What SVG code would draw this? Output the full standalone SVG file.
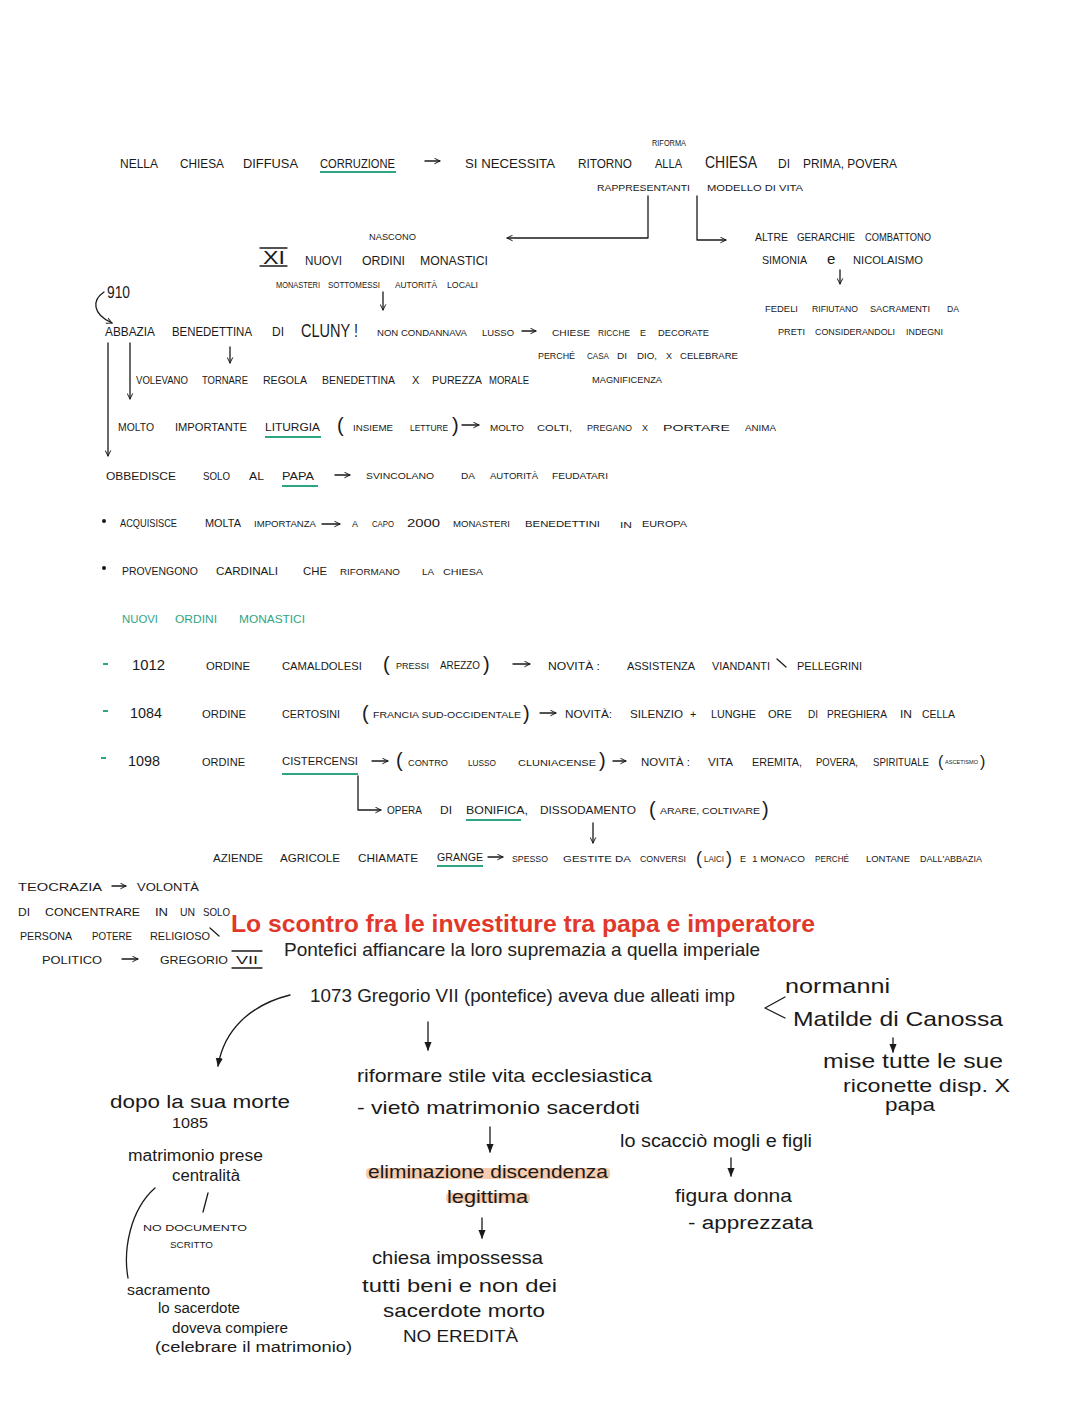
<svg xmlns="http://www.w3.org/2000/svg" width="1080" height="1413" viewBox="0 0 1080 1413">
<style>
text{font-family:"Liberation Sans",Arial,sans-serif;fill:#1a1a1a}
.h{font-size:13px}
.m{font-size:11px}
.s{font-size:9px}
.g{fill:#2fa583}
.hw{font-size:19px}
.red{font-size:24px;font-weight:bold;fill:#e0392b}
.ty{font-size:18.5px;fill:#222}
.ln{fill:none;stroke:#1a1a1a;stroke-width:1.3;stroke-linecap:round;stroke-linejoin:round}
.ul{stroke:#2fa583;stroke-width:2;fill:none}
</style>
<defs>
<marker id="ah" viewBox="0 0 10 10" refX="9" refY="5" markerWidth="7" markerHeight="7" orient="auto-start-reverse" markerUnits="userSpaceOnUse"><path d="M1 1 L9 5 L1 9" fill="none" stroke="#1a1a1a" stroke-width="1.4"/></marker>
<marker id="af" viewBox="0 0 10 10" refX="9" refY="5" markerWidth="9" markerHeight="9" orient="auto" markerUnits="userSpaceOnUse"><path d="M0 1 L10 5 L0 9 Z" fill="#1a1a1a"/></marker>
</defs>
<rect width="1080" height="1413" fill="#fff"/>

<g id="connectors">
<path class="ln" d="M425 161 H440" marker-end="url(#ah)"/>
<path class="ln" d="M648 196 V238 H507" marker-end="url(#ah)"/>
<path class="ln" d="M697 196 V240 H726" marker-end="url(#ah)"/>
<path class="ln" d="M383 292 V310" marker-end="url(#ah)"/>
<path class="ln" d="M840 270 V284" marker-end="url(#ah)"/>
<path class="ln" d="M104 292 C92 300 92 314 112 323" marker-end="url(#ah)"/>
<path class="ln" d="M522 331 H536" marker-end="url(#ah)"/>
<path class="ln" d="M230 347 V363" marker-end="url(#ah)"/>
<path class="ln" d="M108 343 V456" marker-end="url(#ah)"/>
<path class="ln" d="M130 343 V399" marker-end="url(#ah)"/>
<path class="ln" d="M462 425 H479" marker-end="url(#ah)"/>
<path class="ln" d="M335 475 H350" marker-end="url(#ah)"/>
<path class="ln" d="M322 524 H340" marker-end="url(#ah)"/>
<path class="ln" d="M513 664 H530" marker-end="url(#ah)"/>
<path class="ln" d="M540 713 H556" marker-end="url(#ah)"/>
<path class="ln" d="M372 761 H388" marker-end="url(#ah)"/>
<path class="ln" d="M613 761 H626" marker-end="url(#ah)"/>
<path class="ln" d="M358 776 V810 H381" marker-end="url(#ah)"/>
<path class="ln" d="M593 823 V843" marker-end="url(#ah)"/>
<path class="ln" d="M488 857 H503" marker-end="url(#ah)"/>
<path class="ln" d="M112 886 H126" marker-end="url(#ah)"/>
<path class="ln" d="M122 959 H138" marker-end="url(#ah)"/>
<path class="ln" d="M290 995 C250 1005 224 1030 218 1066" marker-end="url(#af)"/>
<path class="ln" d="M428 1022 V1050" marker-end="url(#af)"/>
<path class="ln" d="M490 1127 V1152" marker-end="url(#af)"/>
<path class="ln" d="M482 1218 V1238" marker-end="url(#af)"/>
<path class="ln" d="M893 1038 V1052" marker-end="url(#af)"/>
<path class="ln" d="M731 1158 V1176" marker-end="url(#af)"/>
<path class="ln" d="M785 997 L765 1008 L785 1018"/>
<path class="ln" d="M208 1193 L203 1212"/>
<path class="ln" d="M155 1188 C130 1210 123 1250 128 1278"/>
</g>

<g id="n-corruzione">
<text class="h" x="120" y="168" textLength="38" lengthAdjust="spacingAndGlyphs">NELLA</text>
<text class="h" x="180" y="168" textLength="44" lengthAdjust="spacingAndGlyphs">CHIESA</text>
<text class="h" x="243" y="168" textLength="55" lengthAdjust="spacingAndGlyphs">DIFFUSA</text>
<text class="h" x="320" y="168" textLength="75" lengthAdjust="spacingAndGlyphs">CORRUZIONE</text>
<path class="ul" d="M320 172 H396"/>
</g>
<g id="n-ritorno">
<text class="s" x="652" y="146" textLength="34" lengthAdjust="spacingAndGlyphs">RIFORMA</text>
<text class="h" x="465" y="168" textLength="90" lengthAdjust="spacingAndGlyphs">SI NECESSITA</text>
<text class="h" x="578" y="168" textLength="54" lengthAdjust="spacingAndGlyphs">RITORNO</text>
<text class="h" x="655" y="168" textLength="27" lengthAdjust="spacingAndGlyphs">ALLA</text>
<text class="h" x="705" y="168" textLength="52" lengthAdjust="spacingAndGlyphs" style="font-size:16px">CHIESA</text>
<text class="h" x="778" y="168" textLength="12" lengthAdjust="spacingAndGlyphs">DI</text>
<text class="h" x="803" y="168" textLength="94" lengthAdjust="spacingAndGlyphs">PRIMA, POVERA</text>
<text class="s" x="597" y="191" textLength="93" lengthAdjust="spacingAndGlyphs">RAPPRESENTANTI</text>
<text class="s" x="707" y="191" textLength="96" lengthAdjust="spacingAndGlyphs">MODELLO DI VITA</text>
</g>

<g id="n-nuovi-ordini">
<text class="s" x="369" y="240" textLength="47" lengthAdjust="spacingAndGlyphs">NASCONO</text>
<text x="263" y="264" style="font-size:19px" textLength="22" lengthAdjust="spacingAndGlyphs">XI</text>
<path class="ln" d="M260 248 H287 M260 266 H287"/>
<text class="h" x="305" y="265" textLength="37" lengthAdjust="spacingAndGlyphs">NUOVI</text>
<text class="h" x="362" y="265" textLength="43" lengthAdjust="spacingAndGlyphs">ORDINI</text>
<text class="h" x="420" y="265" textLength="68" lengthAdjust="spacingAndGlyphs">MONASTICI</text>
<text class="s" x="276" y="288" textLength="44" lengthAdjust="spacingAndGlyphs">MONASTERI</text>
<text class="s" x="328" y="288" textLength="52" lengthAdjust="spacingAndGlyphs">SOTTOMESSI</text>
<text class="s" x="395" y="288" textLength="42" lengthAdjust="spacingAndGlyphs">AUTORITÀ</text>
<text class="s" x="447" y="288" textLength="31" lengthAdjust="spacingAndGlyphs">LOCALI</text>
</g>

<g id="n-altre-gerarchie">
<text class="m" x="755" y="241" textLength="33" lengthAdjust="spacingAndGlyphs">ALTRE</text>
<text class="m" x="797" y="241" textLength="58" lengthAdjust="spacingAndGlyphs">GERARCHIE</text>
<text class="m" x="865" y="241" textLength="66" lengthAdjust="spacingAndGlyphs">COMBATTONO</text>
<text class="m" x="762" y="264" textLength="45" lengthAdjust="spacingAndGlyphs">SIMONIA</text>
<text x="827" y="264" style="font-size:15px">e</text>
<text class="m" x="853" y="264" textLength="70" lengthAdjust="spacingAndGlyphs">NICOLAISMO</text>
<text class="s" x="765" y="312" textLength="33" lengthAdjust="spacingAndGlyphs">FEDELI</text>
<text class="s" x="812" y="312" textLength="46" lengthAdjust="spacingAndGlyphs">RIFIUTANO</text>
<text class="s" x="870" y="312" textLength="60" lengthAdjust="spacingAndGlyphs">SACRAMENTI</text>
<text class="s" x="947" y="312" textLength="12" lengthAdjust="spacingAndGlyphs">DA</text>
<text class="s" x="778" y="335" textLength="27" lengthAdjust="spacingAndGlyphs">PRETI</text>
<text class="s" x="815" y="335" textLength="80" lengthAdjust="spacingAndGlyphs">CONSIDERANDOLI</text>
<text class="s" x="906" y="335" textLength="37" lengthAdjust="spacingAndGlyphs">INDEGNI</text>
</g>

<g id="n-cluny">
<text x="107" y="298" style="font-size:16px" textLength="23" lengthAdjust="spacingAndGlyphs">910</text>
<text class="h" x="105" y="336" textLength="50" lengthAdjust="spacingAndGlyphs">ABBAZIA</text>
<text class="h" x="172" y="336" textLength="80" lengthAdjust="spacingAndGlyphs">BENEDETTINA</text>
<text class="h" x="272" y="336" textLength="12" lengthAdjust="spacingAndGlyphs">DI</text>
<text x="301" y="337" style="font-size:19px" textLength="57" lengthAdjust="spacingAndGlyphs">CLUNY !</text>
<text class="s" x="377" y="336" textLength="90" lengthAdjust="spacingAndGlyphs">NON CONDANNAVA</text>
<text class="s" x="482" y="336" textLength="32" lengthAdjust="spacingAndGlyphs">LUSSO</text>
<text class="s" x="552" y="336" textLength="38" lengthAdjust="spacingAndGlyphs">CHIESE</text>
<text class="s" x="598" y="336" textLength="32" lengthAdjust="spacingAndGlyphs">RICCHE</text>
<text class="s" x="640" y="336">E</text>
<text class="s" x="658" y="336" textLength="51" lengthAdjust="spacingAndGlyphs">DECORATE</text>
<text class="s" x="538" y="359" textLength="37" lengthAdjust="spacingAndGlyphs">PERCHÉ</text>
<text class="s" x="587" y="359" textLength="22" lengthAdjust="spacingAndGlyphs">CASA</text>
<text class="s" x="617" y="359" textLength="10" lengthAdjust="spacingAndGlyphs">DI</text>
<text class="s" x="637" y="359" textLength="20" lengthAdjust="spacingAndGlyphs">DIO,</text>
<text class="s" x="666" y="359">X</text>
<text class="s" x="680" y="359" textLength="58" lengthAdjust="spacingAndGlyphs">CELEBRARE</text>
<text class="s" x="592" y="383" textLength="70" lengthAdjust="spacingAndGlyphs">MAGNIFICENZA</text>
<text class="m" x="136" y="384" textLength="52" lengthAdjust="spacingAndGlyphs">VOLEVANO</text>
<text class="m" x="202" y="384" textLength="46" lengthAdjust="spacingAndGlyphs">TORNARE</text>
<text class="m" x="263" y="384" textLength="44" lengthAdjust="spacingAndGlyphs">REGOLA</text>
<text class="m" x="322" y="384" textLength="73" lengthAdjust="spacingAndGlyphs">BENEDETTINA</text>
<text class="m" x="412" y="384">X</text>
<text class="m" x="432" y="384" textLength="50" lengthAdjust="spacingAndGlyphs">PUREZZA</text>
<text class="m" x="489" y="384" textLength="40" lengthAdjust="spacingAndGlyphs">MORALE</text>
</g>

<g id="n-liturgia">
<text class="m" x="118" y="431" textLength="36" lengthAdjust="spacingAndGlyphs">MOLTO</text>
<text class="m" x="175" y="431" textLength="72" lengthAdjust="spacingAndGlyphs">IMPORTANTE</text>
<text class="m" x="265" y="431" textLength="55" lengthAdjust="spacingAndGlyphs">LITURGIA</text>
<path class="ul" d="M265 437 H321"/>
<text x="337" y="432" style="font-size:20px;font-weight:300">(</text>
<text class="s" x="353" y="431" textLength="40" lengthAdjust="spacingAndGlyphs">INSIEME</text>
<text class="s" x="410" y="431" textLength="38" lengthAdjust="spacingAndGlyphs">LETTURE</text>
<text x="452" y="432" style="font-size:20px;font-weight:300">)</text>
<text class="s" x="490" y="431" textLength="34" lengthAdjust="spacingAndGlyphs">MOLTO</text>
<text class="s" x="537" y="431" textLength="35" lengthAdjust="spacingAndGlyphs">COLTI,</text>
<text class="s" x="587" y="431" textLength="45" lengthAdjust="spacingAndGlyphs">PREGANO</text>
<text class="s" x="642" y="431">X</text>
<text class="s" x="663" y="431" textLength="67" lengthAdjust="spacingAndGlyphs">PORTARE</text>
<text class="s" x="745" y="431" textLength="31" lengthAdjust="spacingAndGlyphs">ANIMA</text>
</g>

<g id="n-obbedisce">
<text class="m" x="106" y="480" textLength="70" lengthAdjust="spacingAndGlyphs">OBBEDISCE</text>
<text class="m" x="203" y="480" textLength="27" lengthAdjust="spacingAndGlyphs">SOLO</text>
<text class="m" x="249" y="480" textLength="15" lengthAdjust="spacingAndGlyphs">AL</text>
<text class="m" x="282" y="480" textLength="32" lengthAdjust="spacingAndGlyphs">PAPA</text>
<path class="ul" d="M282 486 H318"/>
<text class="s" x="366" y="479" textLength="68" lengthAdjust="spacingAndGlyphs">SVINCOLANO</text>
<text class="s" x="461" y="479" textLength="14" lengthAdjust="spacingAndGlyphs">DA</text>
<text class="s" x="490" y="479" textLength="48" lengthAdjust="spacingAndGlyphs">AUTORITÀ</text>
<text class="s" x="552" y="479" textLength="56" lengthAdjust="spacingAndGlyphs">FEUDATARI</text>
</g>

<g id="n-acquisisce">
<circle cx="104" cy="521" r="2" fill="#1a1a1a"/>
<text class="m" x="120" y="527" textLength="57" lengthAdjust="spacingAndGlyphs">ACQUISISCE</text>
<text class="m" x="205" y="527" textLength="36" lengthAdjust="spacingAndGlyphs">MOLTA</text>
<text class="s" x="254" y="527" textLength="62" lengthAdjust="spacingAndGlyphs">IMPORTANZA</text>
<text class="s" x="352" y="527">A</text>
<text class="s" x="372" y="527" textLength="22" lengthAdjust="spacingAndGlyphs">CAPO</text>
<text class="m" x="407" y="527" textLength="33" lengthAdjust="spacingAndGlyphs">2000</text>
<text class="s" x="453" y="527" textLength="57" lengthAdjust="spacingAndGlyphs">MONASTERI</text>
<text class="s" x="525" y="527" textLength="75" lengthAdjust="spacingAndGlyphs">BENEDETTINI</text>
<text class="s" x="620" y="528" textLength="12" lengthAdjust="spacingAndGlyphs">IN</text>
<text class="s" x="642" y="527" textLength="45" lengthAdjust="spacingAndGlyphs">EUROPA</text>
</g>

<g id="n-provengono">
<circle cx="104" cy="568" r="2" fill="#1a1a1a"/>
<text class="m" x="122" y="575" textLength="76" lengthAdjust="spacingAndGlyphs">PROVENGONO</text>
<text class="m" x="216" y="575" textLength="62" lengthAdjust="spacingAndGlyphs">CARDINALI</text>
<text class="m" x="303" y="575" textLength="24" lengthAdjust="spacingAndGlyphs">CHE</text>
<text class="s" x="340" y="575" textLength="60" lengthAdjust="spacingAndGlyphs">RIFORMANO</text>
<text class="s" x="422" y="575" textLength="12" lengthAdjust="spacingAndGlyphs">LA</text>
<text class="s" x="443" y="575" textLength="40" lengthAdjust="spacingAndGlyphs">CHIESA</text>
</g>

<g id="n-nuovi-ordini-titolo">
<text class="m g" x="122" y="623" textLength="36" lengthAdjust="spacingAndGlyphs">NUOVI</text>
<text class="m g" x="175" y="623" textLength="42" lengthAdjust="spacingAndGlyphs">ORDINI</text>
<text class="m g" x="239" y="623" textLength="66" lengthAdjust="spacingAndGlyphs">MONASTICI</text>
</g>

<g id="n-1012">
<path class="ul" d="M103 664 H108"/>
<text x="132" y="670" style="font-size:14px" textLength="33" lengthAdjust="spacingAndGlyphs">1012</text>
<text class="m" x="206" y="670" textLength="44" lengthAdjust="spacingAndGlyphs">ORDINE</text>
<text class="m" x="282" y="670" textLength="80" lengthAdjust="spacingAndGlyphs">CAMALDOLESI</text>
<text x="383" y="671" style="font-size:20px;font-weight:300">(</text>
<text class="s" x="396" y="669" textLength="33" lengthAdjust="spacingAndGlyphs">PRESSI</text>
<text class="m" x="440" y="669" textLength="40" lengthAdjust="spacingAndGlyphs">AREZZO</text>
<text x="483" y="671" style="font-size:20px;font-weight:300">)</text>
<text class="m" x="548" y="670" textLength="52" lengthAdjust="spacingAndGlyphs">NOVITÀ :</text>
<text class="m" x="627" y="670" textLength="68" lengthAdjust="spacingAndGlyphs">ASSISTENZA</text>
<text class="m" x="712" y="670" textLength="58" lengthAdjust="spacingAndGlyphs">VIANDANTI</text>
<path class="ln" d="M777 659 L786 667"/>
<text class="m" x="797" y="670" textLength="65" lengthAdjust="spacingAndGlyphs">PELLEGRINI</text>
</g>

<g id="n-1084">
<path class="ul" d="M103 711 H108"/>
<text x="130" y="718" style="font-size:14px" textLength="32" lengthAdjust="spacingAndGlyphs">1084</text>
<text class="m" x="202" y="718" textLength="44" lengthAdjust="spacingAndGlyphs">ORDINE</text>
<text class="m" x="282" y="718" textLength="58" lengthAdjust="spacingAndGlyphs">CERTOSINI</text>
<text x="362" y="720" style="font-size:20px;font-weight:300">(</text>
<text class="s" x="373" y="718" textLength="148" lengthAdjust="spacingAndGlyphs">FRANCIA SUD-OCCIDENTALE</text>
<text x="523" y="720" style="font-size:20px;font-weight:300">)</text>
<text class="m" x="565" y="718" textLength="47" lengthAdjust="spacingAndGlyphs">NOVITÀ:</text>
<text class="m" x="630" y="718" textLength="53" lengthAdjust="spacingAndGlyphs">SILENZIO</text>
<text class="m" x="690" y="718">+</text>
<text class="m" x="711" y="718" textLength="45" lengthAdjust="spacingAndGlyphs">LUNGHE</text>
<text class="m" x="768" y="718" textLength="24" lengthAdjust="spacingAndGlyphs">ORE</text>
<text class="m" x="808" y="718" textLength="10" lengthAdjust="spacingAndGlyphs">DI</text>
<text class="m" x="827" y="718" textLength="60" lengthAdjust="spacingAndGlyphs">PREGHIERA</text>
<text class="m" x="900" y="718" textLength="12" lengthAdjust="spacingAndGlyphs">IN</text>
<text class="m" x="922" y="718" textLength="33" lengthAdjust="spacingAndGlyphs">CELLA</text>
</g>

<g id="n-1098">
<path class="ul" d="M101 758 H106"/>
<text x="128" y="766" style="font-size:14px" textLength="32" lengthAdjust="spacingAndGlyphs">1098</text>
<text class="m" x="202" y="766" textLength="43" lengthAdjust="spacingAndGlyphs">ORDINE</text>
<text class="m" x="282" y="765" textLength="76" lengthAdjust="spacingAndGlyphs">CISTERCENSI</text>
<path class="ul" d="M282 774 H358"/>
<text x="396" y="767" style="font-size:20px;font-weight:300">(</text>
<text class="s" x="408" y="766" textLength="40" lengthAdjust="spacingAndGlyphs">CONTRO</text>
<text class="s" x="468" y="766" textLength="28" lengthAdjust="spacingAndGlyphs">LUSSO</text>
<text class="s" x="518" y="766" textLength="78" lengthAdjust="spacingAndGlyphs">CLUNIACENSE</text>
<text x="599" y="767" style="font-size:20px;font-weight:300">)</text>
<text class="m" x="641" y="766" textLength="49" lengthAdjust="spacingAndGlyphs">NOVITÀ :</text>
<text class="m" x="708" y="766" textLength="25" lengthAdjust="spacingAndGlyphs">VITA</text>
<text class="m" x="752" y="766" textLength="50" lengthAdjust="spacingAndGlyphs">EREMITA,</text>
<text class="m" x="816" y="766" textLength="42" lengthAdjust="spacingAndGlyphs">POVERA,</text>
<text class="m" x="873" y="766" textLength="56" lengthAdjust="spacingAndGlyphs">SPIRITUALE</text>
<text x="938" y="767" style="font-size:16px;font-weight:300">(</text>
<text x="945" y="764" style="font-size:5px" textLength="33" lengthAdjust="spacingAndGlyphs">ASCETISMO</text>
<text x="980" y="767" style="font-size:16px;font-weight:300">)</text>
</g>

<g id="n-bonifica">
<text class="m" x="387" y="814" textLength="35" lengthAdjust="spacingAndGlyphs">OPERA</text>
<text class="m" x="440" y="814" textLength="12" lengthAdjust="spacingAndGlyphs">DI</text>
<text class="m" x="466" y="814" textLength="62" lengthAdjust="spacingAndGlyphs">BONIFICA,</text>
<path class="ul" d="M466 820 H521"/>
<text class="m" x="540" y="814" textLength="96" lengthAdjust="spacingAndGlyphs">DISSODAMENTO</text>
<text x="649" y="816" style="font-size:20px;font-weight:300">(</text>
<text class="s" x="660" y="814" textLength="100" lengthAdjust="spacingAndGlyphs">ARARE, COLTIVARE</text>
<text x="762" y="816" style="font-size:20px;font-weight:300">)</text>
</g>

<g id="n-grange">
<text class="m" x="213" y="862" textLength="50" lengthAdjust="spacingAndGlyphs">AZIENDE</text>
<text class="m" x="280" y="862" textLength="60" lengthAdjust="spacingAndGlyphs">AGRICOLE</text>
<text class="m" x="358" y="862" textLength="60" lengthAdjust="spacingAndGlyphs">CHIAMATE</text>
<text class="m" x="437" y="861" textLength="46" lengthAdjust="spacingAndGlyphs">GRANGE</text>
<path class="ul" d="M437 866 H483"/>
<text class="s" x="512" y="862" textLength="36" lengthAdjust="spacingAndGlyphs">SPESSO</text>
<text class="s" x="563" y="862" textLength="68" lengthAdjust="spacingAndGlyphs">GESTITE DA</text>
<text class="s" x="640" y="862" textLength="46" lengthAdjust="spacingAndGlyphs">CONVERSI</text>
<text x="696" y="864" style="font-size:18px;font-weight:300">(</text>
<text class="s" x="704" y="862" textLength="20" lengthAdjust="spacingAndGlyphs">LAICI</text>
<text x="726" y="864" style="font-size:18px;font-weight:300">)</text>
<text class="s" x="740" y="862">E</text>
<text class="s" x="752" y="862" textLength="53" lengthAdjust="spacingAndGlyphs">1 MONACO</text>
<text class="s" x="815" y="862" textLength="34" lengthAdjust="spacingAndGlyphs">PERCHÉ</text>
<text class="s" x="866" y="862" textLength="44" lengthAdjust="spacingAndGlyphs">LONTANE</text>
<text class="s" x="920" y="862" textLength="62" lengthAdjust="spacingAndGlyphs">DALL'ABBAZIA</text>
</g>

<g id="n-teocrazia">
<text class="m" x="18" y="891" textLength="84" lengthAdjust="spacingAndGlyphs">TEOCRAZIA</text>
<text class="m" x="137" y="891" textLength="62" lengthAdjust="spacingAndGlyphs">VOLONTÀ</text>
<text class="m" x="18" y="916" textLength="12" lengthAdjust="spacingAndGlyphs">DI</text>
<text class="m" x="45" y="916" textLength="95" lengthAdjust="spacingAndGlyphs">CONCENTRARE</text>
<text class="m" x="155" y="916" textLength="13" lengthAdjust="spacingAndGlyphs">IN</text>
<text class="m" x="180" y="916" textLength="15" lengthAdjust="spacingAndGlyphs">UN</text>
<text class="m" x="203" y="916" textLength="27" lengthAdjust="spacingAndGlyphs">SOLO</text>
<text class="m" x="20" y="940" textLength="52" lengthAdjust="spacingAndGlyphs">PERSONA</text>
<text class="m" x="92" y="940" textLength="40" lengthAdjust="spacingAndGlyphs">POTERE</text>
<text class="m" x="150" y="940" textLength="60" lengthAdjust="spacingAndGlyphs">RELIGIOSO</text>
<path class="ln" d="M210 928 L219 936"/>
<text class="m" x="42" y="964" textLength="60" lengthAdjust="spacingAndGlyphs">POLITICO</text>
<text class="m" x="160" y="964" textLength="68" lengthAdjust="spacingAndGlyphs">GREGORIO</text>
<text class="m" x="236" y="964" textLength="22" lengthAdjust="spacingAndGlyphs">VII</text>
<path class="ln" d="M232 951 H262 M232 968 H262"/>
</g>

<g id="n-titolo">
<text class="red" x="231" y="932" textLength="584" lengthAdjust="spacingAndGlyphs">Lo scontro fra le investiture tra papa e imperatore</text>
<text class="ty" x="284" y="956" textLength="476" lengthAdjust="spacingAndGlyphs">Pontefici affiancare la loro supremazia a quella imperiale</text>
</g>

<g id="n-1073">
<text class="ty" x="310" y="1002" textLength="425" lengthAdjust="spacingAndGlyphs">1073 Gregorio VII (pontefice) aveva due alleati imp</text>
</g>

<g id="n-alleati">
<text x="785" y="993" style="font-size:21px" textLength="105" lengthAdjust="spacingAndGlyphs">normanni</text>
<text x="793" y="1026" style="font-size:21px" textLength="210" lengthAdjust="spacingAndGlyphs">Matilde di Canossa</text>
<text x="823" y="1068" style="font-size:20px" textLength="180" lengthAdjust="spacingAndGlyphs">mise tutte le sue</text>
<text x="843" y="1092" style="font-size:19px" textLength="167" lengthAdjust="spacingAndGlyphs">riconette disp. X</text>
<text x="885" y="1111" style="font-size:19px" textLength="50" lengthAdjust="spacingAndGlyphs">papa</text>
</g>

<g id="n-riformare">
<text class="hw" x="357" y="1082" textLength="295" lengthAdjust="spacingAndGlyphs">riformare stile vita ecclesiastica</text>
<text class="hw" x="357" y="1114" textLength="283" lengthAdjust="spacingAndGlyphs">- vietò matrimonio sacerdoti</text>
</g>

<g id="n-eliminazione">
<rect x="366" y="1168" width="244" height="11" rx="4" fill="#f6c3a0" opacity="0.85"/>
<rect x="446" y="1193" width="84" height="10" rx="4" fill="#f6c3a0" opacity="0.85"/>
<text class="hw" x="368" y="1178" textLength="240" lengthAdjust="spacingAndGlyphs">eliminazione discendenza</text>
<text class="hw" x="447" y="1203" textLength="81" lengthAdjust="spacingAndGlyphs">legittima</text>
</g>

<g id="n-chiesa">
<text class="hw" x="372" y="1264" textLength="171" lengthAdjust="spacingAndGlyphs">chiesa impossessa</text>
<text class="hw" x="362" y="1292" textLength="195" lengthAdjust="spacingAndGlyphs">tutti beni e non dei</text>
<text class="hw" x="383" y="1317" textLength="162" lengthAdjust="spacingAndGlyphs">sacerdote morto</text>
<text class="hw" x="403" y="1342" textLength="115" lengthAdjust="spacingAndGlyphs" style="font-size:16px">NO EREDITÀ</text>
</g>

<g id="n-scacciò">
<text x="620" y="1147" style="font-size:18px" textLength="192" lengthAdjust="spacingAndGlyphs">lo scacciò mogli e figli</text>
<text x="675" y="1202" style="font-size:18px" textLength="117" lengthAdjust="spacingAndGlyphs">figura donna</text>
<text x="688" y="1229" style="font-size:18px" textLength="125" lengthAdjust="spacingAndGlyphs">- apprezzata</text>
</g>

<g id="n-dopo-morte">
<text x="110" y="1108" style="font-size:18px" textLength="180" lengthAdjust="spacingAndGlyphs">dopo la sua morte</text>
<text x="172" y="1128" style="font-size:15px" textLength="36" lengthAdjust="spacingAndGlyphs">1085</text>
<text x="128" y="1161" style="font-size:16px" textLength="135" lengthAdjust="spacingAndGlyphs">matrimonio prese</text>
<text x="172" y="1181" style="font-size:16px" textLength="68" lengthAdjust="spacingAndGlyphs">centralità</text>
<text class="s" x="143" y="1231" textLength="104" lengthAdjust="spacingAndGlyphs">NO DOCUMENTO</text>
<text class="s" x="170" y="1248" textLength="43" lengthAdjust="spacingAndGlyphs">SCRITTO</text>
<text x="127" y="1295" style="font-size:15px" textLength="83" lengthAdjust="spacingAndGlyphs">sacramento</text>
<text x="158" y="1313" style="font-size:14px" textLength="82" lengthAdjust="spacingAndGlyphs">lo sacerdote</text>
<text x="172" y="1333" style="font-size:14px" textLength="116" lengthAdjust="spacingAndGlyphs">doveva compiere</text>
<text x="155" y="1352" style="font-size:14px" textLength="197" lengthAdjust="spacingAndGlyphs">(celebrare il matrimonio)</text>
</g>
</svg>
